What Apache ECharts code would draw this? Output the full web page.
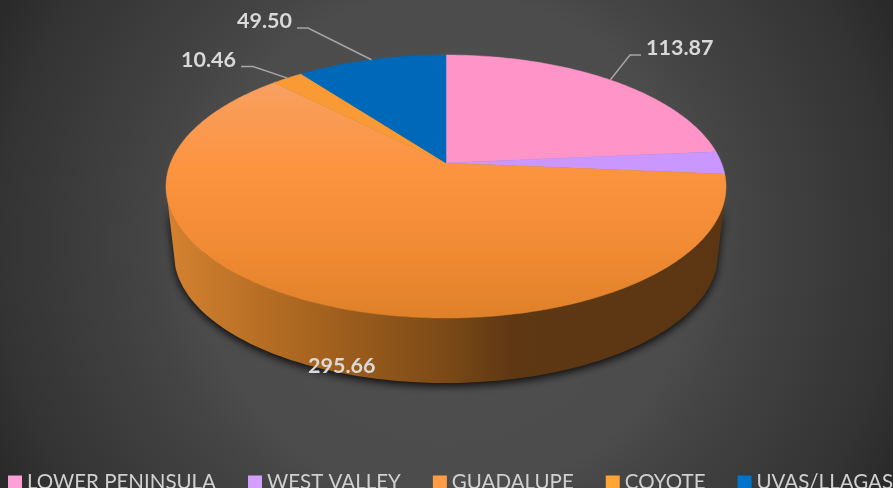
<!DOCTYPE html>
<html>
<head>
<meta charset="utf-8">
<style>
    html, body { margin: 0; padding: 0; overflow: hidden; background: #333; }
    #chart { width: 893px; height: 488px; }
</style>
</head>
<body>
<div id="chart"></div>
<script src="https://cdn.jsdelivr.net/npm/echarts@6/dist/echarts.min.js"></script>
<script>
    const categories = ['LOWER PENINSULA', 'WEST VALLEY', 'GUADALUPE', 'COYOTE', 'UVAS/LLAGAS'];
    const values = [113.87, 13.5, 295.66, 10.46, 49.50];
    const labelled = [true, false, true, true, true];
    const legendColors = ['#FF9FD8', '#D3A0FF', '#FF9C45', '#FFA535', '#0074CC'];

    const total = values.reduce((a, b) => a + b, 0);
    const chart = echarts.init(document.getElementById('chart'));
    const grad = echarts.graphic;

    // top face and floor of the disc, tilt moves the apex off the ellipse centre
    const TOP = { cx: 446, cy: 186.5, rx: 280, ry: 131.5 };
    const BOTTOM = { cx: 446, cy: 254, rx: 272, ry: 129 };
    const TILT = -0.179;
    const WALL_FROM = 106, WALL_TO = 254;

    function project(deg, e) {
        const t = deg * Math.PI / 180;
        const x = Math.sin(t), y = -Math.cos(t);
        const d = 1 + TILT * y;
        return [
            e.cx + e.rx * x * Math.sqrt(1 - TILT * TILT) / d,
            e.cy + e.ry * (y + TILT) / d
        ];
    }

    function arc(from, to, e) {
        const pts = [];
        for (let a = from; a < to; a += 1) pts.push(project(a, e));
        pts.push(project(to, e));
        return pts;
    }

    const topFills = [
        '#FF94C8',
        '#C997FF',
        new grad.LinearGradient(0, 55, 0, 318, [
            { offset: 0, color: '#F7A470' },
            { offset: 0.2, color: '#F99C57' },
            { offset: 0.45, color: '#FC933E' },
            { offset: 0.75, color: '#F08A33' },
            { offset: 1, color: '#DF8128' }
        ], true),
        '#F99A35',
        '#0068B8'
    ];
    const wallFill = new grad.LinearGradient(170, 0, 722, 0, [
        { offset: 0, color: '#D3812F' },
        { offset: 0.25, color: '#A9651F' },
        { offset: 0.5, color: '#7B4A17' },
        { offset: 0.62, color: '#5E3713' },
        { offset: 1, color: '#5C3512' }
    ], true);

    // where each value text sits and how its leader bends
    const labelBoxes = [
        { x: 646, y: 48, align: 'left', elbow: [[630, 55], [641, 55]] },
        null,
        { x: 308, y: 366, align: 'left', elbow: null },
        { x: 236, y: 60, align: 'right', elbow: [[253, 66.5], [241, 66.5]] },
        { x: 292, y: 21, align: 'right', elbow: [[308, 28], [297, 28]] }
    ];

    function sliceRenderer(index) {
        const before = values.slice(0, index).reduce((a, b) => a + b, 0);
        const start = before / total * 360;
        const end = (before + values[index]) / total * 360;
        return function (params, api) {
            const children = [];
            const wallStart = Math.max(start, WALL_FROM);
            const wallEnd = Math.min(end, WALL_TO);
            if (wallEnd > wallStart) {
                children.push({
                    type: 'polygon',
                    shape: { points: arc(wallStart, wallEnd, TOP).concat(arc(wallStart, wallEnd, BOTTOM).reverse()) },
                    style: {
                        fill: wallFill,
                        shadowColor: 'rgba(0,0,0,0.85)',
                        shadowBlur: 9,
                        shadowOffsetY: 3
                    }
                });
            }
            const fill = topFills[index];
            children.push({
                type: 'polygon',
                shape: { points: [[TOP.cx, 163]].concat(arc(start, end, TOP)) },
                style: { fill: fill, stroke: fill, lineWidth: 0.5 }
            });
            const box = labelBoxes[index];
            if (labelled[index] && box) {
                if (box.elbow) {
                    children.push({
                        type: 'polyline',
                        shape: { points: [project((start + end) / 2, TOP)].concat(box.elbow) },
                        style: { fill: 'none', stroke: '#A6A6A6', lineWidth: 1.5 }
                    });
                }
                children.push({
                    type: 'text',
                    z2: 10,
                    style: {
                        text: api.value(0).toFixed(2),
                        x: box.x,
                        y: box.y,
                        align: box.align,
                        verticalAlign: 'middle',
                        fill: '#D9D9D9',
                        font: 'bold 21.5px Lato'
                    }
                });
            }
            return { type: 'group', children: children };
        };
    }

    chart.setOption({
        animation: false,
        backgroundColor: new grad.RadialGradient(446, 244, 500, [
            { offset: 0, color: '#505050' },
            { offset: 0.5, color: '#4C4C4C' },
            { offset: 0.6, color: '#444444' },
            { offset: 0.9, color: '#333333' },
            { offset: 1, color: '#2A2A2A' }
        ], true),
        legend: {
            left: 3,
            top: 467,
            width: 2000,
            padding: 5,
            icon: 'rect',
            itemWidth: 14,
            itemHeight: 14,
            itemGap: 32,
            selectedMode: false,
            textStyle: { color: '#D0D0D0', fontFamily: 'Lato', fontSize: 20.5 },
            data: categories
        },
        series: categories.map((name, i) => ({
            name: name,
            type: 'custom',
            coordinateSystem: 'none',
            silent: true,
            clip: false,
            itemStyle: { color: legendColors[i] },
            renderItem: sliceRenderer(i),
            data: [[values[i]]]
        }))
    });
</script>
</body>
</html>
